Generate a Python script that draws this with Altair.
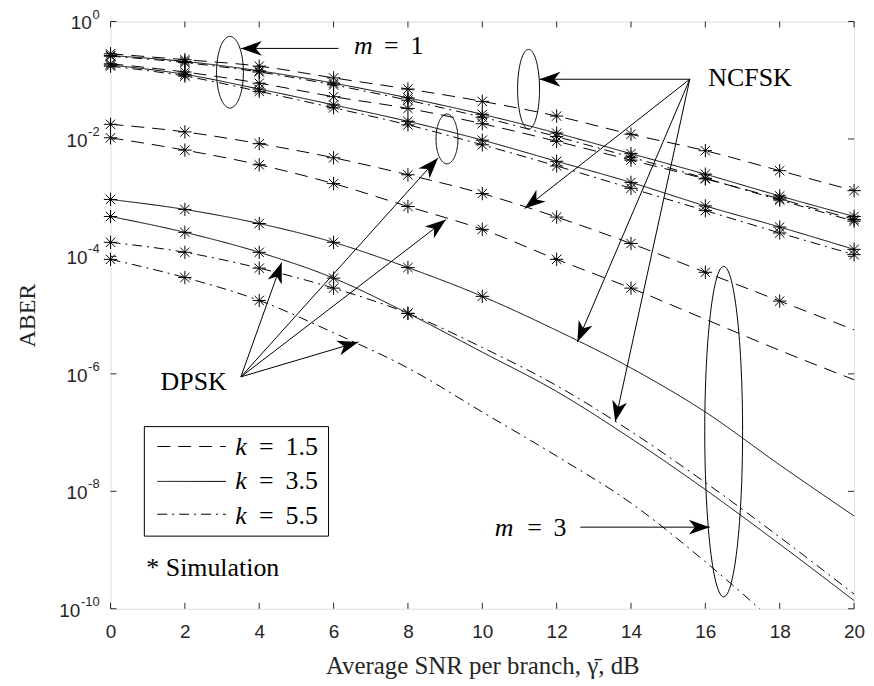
import numpy as np
import pandas as pd
import altair as alt

# ---------------- data ----------------
snr_db = [0, 2, 4, 6, 8, 10, 12, 14, 16, 18, 20]

# log10(ABER) at each SNR point
m1_ncfsk_k15 = [-0.55, -0.65, -0.76, -0.96, -1.15, -1.36, -1.61, -1.92, -2.20, -2.54, -2.88]
m1_ncfsk_k35 = [-0.58, -0.68, -0.84, -1.05, -1.30, -1.58, -1.90, -2.25, -2.60, -2.97, -3.32]
m1_ncfsk_k55 = [-0.59, -0.70, -0.86, -1.08, -1.34, -1.63, -1.96, -2.31, -2.67, -3.04, -3.40]
m1_dpsk_k15 = [-0.72, -0.86, -1.05, -1.28, -1.48, -1.74, -2.04, -2.36, -2.68, -3.02, -3.37]
m1_dpsk_k35 = [-0.74, -0.90, -1.15, -1.42, -1.70, -2.02, -2.38, -2.74, -3.14, -3.50, -3.88]
m1_dpsk_k55 = [-0.76, -0.93, -1.19, -1.47, -1.76, -2.10, -2.46, -2.84, -3.22, -3.60, -3.97]
m3_ncfsk_k15 = [-1.75, -1.88, -2.08, -2.32, -2.61, -2.93, -3.33, -3.78, -4.27, -4.76, -5.25]
m3_dpsk_k15 = [-1.98, -2.19, -2.44, -2.76, -3.15, -3.54, -4.05, -4.54, -5.07, -5.60, -6.10]
m3_ncfsk_k35 = [-3.03, -3.20, -3.44, -3.76, -4.19, -4.68, -5.26, -5.90, -6.65, -7.55, -8.42]
m3_dpsk_k35 = [-3.32, -3.59, -3.93, -4.37, -4.97, -5.63, -6.30, -7.10, -7.97, -8.90, -9.86]
m3_ncfsk_k55 = [-3.76, -3.93, -4.20, -4.54, -4.97, -5.55, -6.20, -6.98, -7.85, -8.78, -9.75]
m3_dpsk_k55 = [-4.05, -4.36, -4.75, -5.30, -5.90, -6.65, -7.40, -8.20, -9.20, -10.30, -11.40]

curve_names = ["m1_ncfsk_k15", "m1_ncfsk_k35", "m1_ncfsk_k55",
               "m1_dpsk_k15", "m1_dpsk_k35", "m1_dpsk_k55",
               "m3_ncfsk_k15", "m3_ncfsk_k35", "m3_ncfsk_k55",
               "m3_dpsk_k15", "m3_dpsk_k35", "m3_dpsk_k55"]
curve_values = [m1_ncfsk_k15, m1_ncfsk_k35, m1_ncfsk_k55,
                m1_dpsk_k15, m1_dpsk_k35, m1_dpsk_k55,
                m3_ncfsk_k15, m3_ncfsk_k35, m3_ncfsk_k55,
                m3_dpsk_k15, m3_dpsk_k35, m3_dpsk_k55]
curve_k = ["1.5", "3.5", "5.5"] * 4
# number of simulation points (stars) shown on each curve, from SNR = 0 upward
sim_counts = [11, 11, 11, 11, 11, 11, 10, 6, 5, 8, 5, 3]

k_values = ["1.5", "3.5", "5.5"]
k_styles = ["dash", "solid", "dashdot"]

xtick_values = [0, 2, 4, 6, 8, 10, 12, 14, 16, 18, 20]
ytick_values = [1, 1e-2, 1e-4, 1e-6, 1e-8, 1e-10]
ytick_exponents = ["0", "-2", "-4", "-6", "-8", "-10"]

# ---------------- annotations (data units: dB, log10 ABER) ----------------
ell_cx = [3.213, 11.245, 9.050, 16.493]
ell_cl = [-0.864, -1.153, -2.000, -6.983]
ell_rx = [0.361, 0.295, 0.295, 0.509]
ell_rl = [0.610, 0.678, 0.424, 2.814]

arrow_x0 = [6.131, 15.582, 15.582, 15.582, 15.582, 3.507, 3.507, 3.507, 3.507, 12.637]
arrow_l0 = [-0.458, -0.983, -0.983, -0.983, -0.983, -6.051, -6.051, -6.051, -6.051, -8.610]
arrow_x1 = [3.507, 11.539, 11.138, 12.557, 13.574, 4.605, 8.809, 9.023, 6.667, 16.118]
arrow_l1 = [-0.458, -0.983, -3.186, -5.458, -6.814, -4.102, -2.322, -3.373, -5.458, -8.610]

reg_text = ["=", "1", "NCFSK", "DPSK", "=", "3"]
reg_x = [7.550, 8.246, 17.202, 2.236, 11.406, 12.088]
reg_l = [-0.559, -0.559, -1.102, -6.271, -8.763, -8.763]
ital_text = ["m", "m"]
ital_x = [6.801, 10.589]
ital_l = [-0.559, -8.763]

leg_box_x = [0.910, 5.863]
leg_box_l = [-6.898, -8.763]
leg_line_x = [1.258, 3.106]
leg_row_l = [-7.237, -7.831, -8.390]
leg_base_l = [-7.373, -7.966, -8.559]
leg_k_x = 3.507
leg_eq_x = 4.190
leg_num_x = 5.141
sim_text_x = 0.964
sim_text_l = -9.441

# ---------------- layout ----------------
W, H = 747, 590
PX_PER_DB = W / 20.0
PX_PER_DEC = H / 10.0
SERIF = "Liberation Serif"
SANS = "Liberation Sans"
AX_COLOR = "#262626"
STAR = "M-1,0L1,0M0,-1L0,1M-0.7,-0.7L0.7,0.7M-0.7,0.7L0.7,-0.7"
HEAD = "M0,0L0.5,1.4L0,1.0L-0.5,1.4Z"
LBL_SIZE = 19
EXP_SIZE = 13

# ---------------- tables ----------------
rows = []
for name, vals, k in zip(curve_names, curve_values, curve_k):
    style = k_styles[k_values.index(k)]
    for x, lv in zip(snr_db, vals):
        rows.append({"x": x, "aber": 10.0 ** lv, "curve": name, "style": style})
curve_df = pd.DataFrame(rows)

sim_rows = []
for name, vals, n in zip(curve_names, curve_values, sim_counts):
    for x, lv in list(zip(snr_db, vals))[:n]:
        sim_rows.append({"x": x, "aber": 10.0 ** lv})
sim_df = pd.DataFrame(sim_rows)

t = np.linspace(0, 2 * np.pi, 121)
ell_rows = []
for i, (cx, cl, rx, rl) in enumerate(zip(ell_cx, ell_cl, ell_rx, ell_rl)):
    for j, tt in enumerate(t):
        ell_rows.append({"x": cx + rx * np.cos(tt), "aber": 10.0 ** (cl + rl * np.sin(tt)),
                         "ell": i, "o": j})
ell_df = pd.DataFrame(ell_rows)

arr_rows = []
for x0, l0, x1, l1 in zip(arrow_x0, arrow_l0, arrow_x1, arrow_l1):
    dx = (x1 - x0) * PX_PER_DB
    dy = -(l1 - l0) * PX_PER_DEC
    ang = np.degrees(np.arctan2(dx, -dy)) % 360
    arr_rows.append({"x": x0, "aber": 10.0 ** l0, "x2": x1, "aber2": 10.0 ** l1,
                     "hx": x1, "haber": 10.0 ** l1, "angle": float(ang)})
arr_df = pd.DataFrame(arr_rows)
head_df = pd.DataFrame({"x": arr_df["hx"], "aber": arr_df["haber"], "angle": arr_df["angle"]})

reg_df = pd.DataFrame({"x": reg_x, "aber": [10.0 ** v for v in reg_l], "text": reg_text})
ital_df = pd.DataFrame({"x": ital_x, "aber": [10.0 ** v for v in ital_l], "text": ital_text})

box_df = pd.DataFrame({"x": [leg_box_x[0]], "x2": [leg_box_x[1]],
                       "aber": [10.0 ** leg_box_l[0]], "aber2": [10.0 ** leg_box_l[1]]})
leg_line_df = pd.DataFrame({"x": [leg_line_x[0]] * 3, "x2": [leg_line_x[1]] * 3,
                            "aber": [10.0 ** v for v in leg_row_l],
                            "style": k_styles})
leg_k_df = pd.DataFrame({"x": [leg_k_x] * 3, "aber": [10.0 ** v for v in leg_base_l], "text": ["k"] * 3})
leg_eq_df = pd.DataFrame({"x": [leg_eq_x] * 3 + [leg_num_x] * 3,
                          "aber": [10.0 ** v for v in leg_base_l] * 2,
                          "text": ["="] * 3 + k_values})
sim_txt_df = pd.DataFrame({"x": [sim_text_x], "aber": [10.0 ** sim_text_l], "text": ["* Simulation"]})

xtick_df = pd.DataFrame({"x": xtick_values})
ytick_df = pd.DataFrame({"aber": ytick_values})


# y tick labels "10" with raised exponents (positions in plot pixels -> dB units)
def sans_w(s, size):
    return sum((0.333 if c == "-" else 0.556) for c in s) * size


exp_right = -11.0
ylab_rows = []
for v, e in zip(ytick_values, ytick_exponents):
    ew = sans_w(e, EXP_SIZE)
    ylab_rows.append({"aber": v, "exp": e, "ex": exp_right / PX_PER_DB,
                      "bx": (exp_right - ew - 0.5) / PX_PER_DB, "base": "10"})
ylab_df = pd.DataFrame(ylab_rows)

# ---------------- scales & axes ----------------
xs = alt.Scale(domain=[0, 20], nice=False, zero=False)
ys = alt.Scale(type="log", domain=[1e-10, 1], nice=False)

xaxis = alt.Axis(values=xtick_values, ticks=False, domain=False, grid=False,
                 labelFont=SANS, labelFontSize=LBL_SIZE, labelColor=AX_COLOR, labelPadding=14,
                 labelFlush=False, labelOverlap=False,
                 title="Average SNR per branch, \u03b3\u0304, dB", titleFont=SERIF,
                 titleFontSize=25, titleFontWeight="normal", titleColor=AX_COLOR,
                 titleX=W / 2, titleY=57, titleAlign="center", titleBaseline="middle")
yaxis = alt.Axis(values=ytick_values, labels=False, ticks=False, domain=False, grid=False,
                 title="ABER", titleFont=SERIF, titleFontSize=24, titleFontWeight="normal",
                 titleColor=AX_COLOR, titleX=-83, titleY=H / 2, titleAlign="center",
                 titleBaseline="middle")


def X(field="x"):
    return alt.X(field + ":Q", scale=xs, axis=xaxis)


def Y():
    return alt.Y("aber:Q", scale=ys, axis=yaxis)


dash_scale = alt.Scale(domain=k_styles, range=[[13, 8], [1, 0], [10, 5, 2, 5]])

curves = alt.Chart(curve_df).mark_line(color="black", strokeWidth=1, clip=True,
                                       interpolate="monotone").encode(
    x=X(), y=Y(), detail="curve:N",
    strokeDash=alt.StrokeDash("style:N", scale=dash_scale, legend=None))

stars = alt.Chart(sim_df).mark_point(shape=STAR, filled=False, color="black", strokeWidth=1,
                                     size=180, opacity=1).encode(x=X(), y=Y())

ellipses = alt.Chart(ell_df).mark_line(color="black", strokeWidth=1).encode(
    x=X(), y=Y(), detail="ell:N", order="o:Q")

shafts = alt.Chart(arr_df).mark_rule(color="black", strokeWidth=1).encode(
    x=X(), y=Y(), x2="x2:Q", y2="aber2:Q")

heads = alt.Chart(head_df).mark_point(shape=HEAD, filled=True, color="black", size=900,
                                      opacity=1, strokeWidth=0).encode(
    x=X(), y=Y(), angle=alt.Angle("angle:Q", scale=None))

reg_txt = alt.Chart(reg_df).mark_text(font=SERIF, fontSize=26, align="center",
                                      baseline="alphabetic", color="black").encode(
    x=X(), y=Y(), text="text:N")
ital_txt = alt.Chart(ital_df).mark_text(font=SERIF, fontSize=26, fontStyle="italic",
                                        align="center", baseline="alphabetic",
                                        color="black").encode(x=X(), y=Y(), text="text:N")

box = alt.Chart(box_df).mark_rect(fill="white", stroke="black", strokeWidth=1).encode(
    x=X(), x2="x2:Q", y=Y(), y2="aber2:Q")
leg_lines = alt.Chart(leg_line_df).mark_rule(color="black", strokeWidth=1).encode(
    x=X(), x2="x2:Q", y=Y(),
    strokeDash=alt.StrokeDash("style:N", scale=dash_scale, legend=None))
leg_k = alt.Chart(leg_k_df).mark_text(font=SERIF, fontSize=26, fontStyle="italic",
                                      align="center", baseline="alphabetic",
                                      color="black").encode(x=X(), y=Y(), text="text:N")
leg_eq = alt.Chart(leg_eq_df).mark_text(font=SERIF, fontSize=26, align="center",
                                        baseline="alphabetic", color="black").encode(
    x=X(), y=Y(), text="text:N")
sim_txt = alt.Chart(sim_txt_df).mark_text(font=SERIF, fontSize=26, align="left",
                                          baseline="alphabetic", color="black").encode(
    x=X(), y=Y(), text="text:N")

ylab_base = alt.Chart(ylab_df).mark_text(font=SANS, fontSize=LBL_SIZE, align="right",
                                         baseline="middle", color=AX_COLOR, dy=2).encode(
    x=X("bx"), y=Y(), text="base:N")
ylab_exp = alt.Chart(ylab_df).mark_text(font=SANS, fontSize=EXP_SIZE, align="right",
                                        baseline="middle", color=AX_COLOR, dy=-7).encode(
    x=X("ex"), y=Y(), text="exp:N")

tick_b = alt.Chart(xtick_df).mark_rule(color=AX_COLOR, strokeWidth=1).encode(
    x=X(), y=alt.value(H), y2=alt.value(H - 6))
tick_t = alt.Chart(xtick_df).mark_rule(color=AX_COLOR, strokeWidth=1).encode(
    x=X(), y=alt.value(0), y2=alt.value(6))
tick_l = alt.Chart(ytick_df).mark_rule(color=AX_COLOR, strokeWidth=1).encode(
    y=Y(), x=alt.value(0), x2=alt.value(6))
tick_r = alt.Chart(ytick_df).mark_rule(color=AX_COLOR, strokeWidth=1).encode(
    y=Y(), x=alt.value(W), x2=alt.value(W - 6))

chart = alt.layer(
    curves, stars, ellipses, shafts, heads, reg_txt, ital_txt,
    box, leg_lines, leg_k, leg_eq, sim_txt, ylab_base, ylab_exp,
    tick_b, tick_t, tick_l, tick_r
).properties(
    width=W, height=H,
    autosize=alt.AutoSizeParams(type="none"),
    padding={"left": 103, "top": 12, "right": 12, "bottom": 74},
).configure_view(stroke=AX_COLOR, strokeWidth=1).configure(background="white")

chart.save("out.html", embed_options={"renderer": "svg", "actions": False})
